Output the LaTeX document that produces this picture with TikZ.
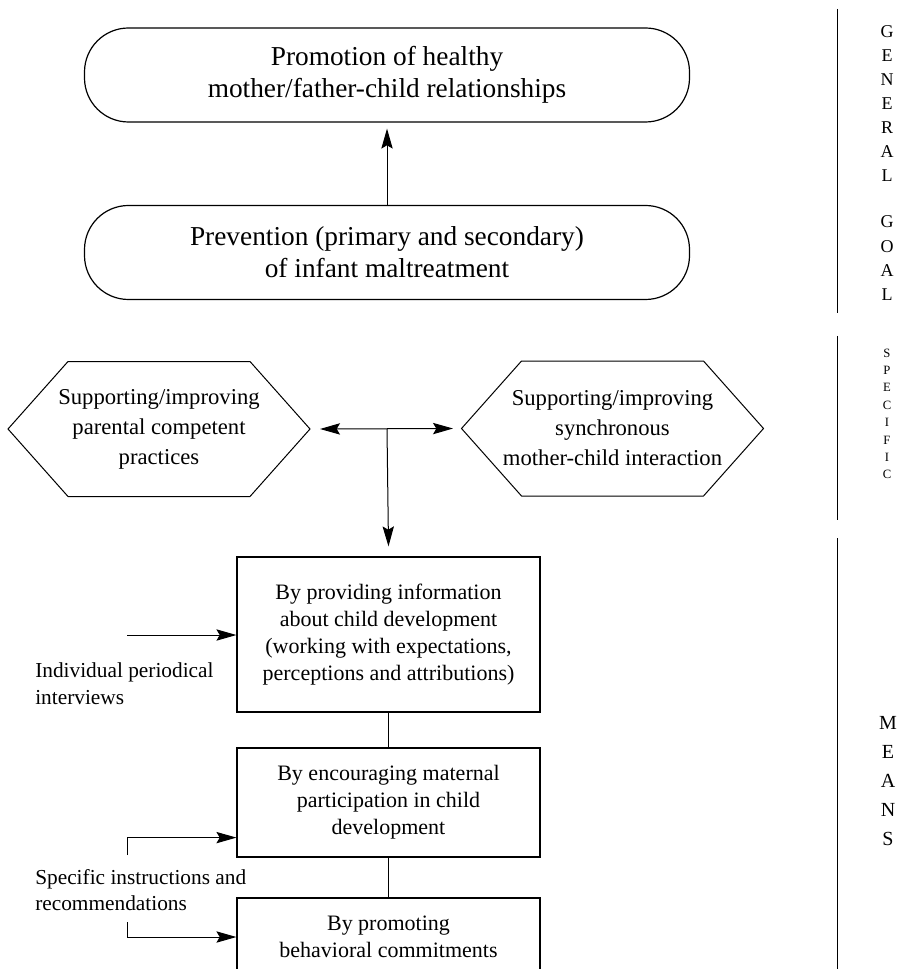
\documentclass[tikz,border=0pt]{standalone}
\usepackage{fontspec}
\setmainfont{Liberation Serif}
\usetikzlibrary{arrows.meta,calc}

\begin{document}
\begin{tikzpicture}[x=0.75pt,y=-0.75pt,
    >={Stealth[length=15pt,width=8.5pt,inset=2.5pt]},
    every node/.style={inner sep=0pt},
    goal/.style={draw, line width=0.9pt, rounded corners=33pt,
      minimum width=453.75pt, minimum height=70.5pt, align=center,
      font=\fontsize{20.5}{24}\selectfont},
    aim/.style={align=center, font=\fontsize{17}{22.5}\selectfont},
    meansbox/.style={draw, line width=0.9pt, minimum width=227.25pt,
      align=center, font=\fontsize{16.5}{20.25}\selectfont},
    side/.style={anchor=west, align=left, font=\fontsize{16}{20}\selectfont},
    tag/.style={font=\fontsize{13.5}{16}\selectfont},
    arr/.style={line width=0.75pt, ->}]
  \useasboundingbox (0,0) rectangle (906,969);
  \clip (0,0) rectangle (906,969);

  % general goal
  \node[goal] (promo) at (387,75) {Promotion of healthy\\mother/father-child relationships};
  \node[goal] (prevent) at (387,252.5) {Prevention (primary and secondary)\\of infant maltreatment};
  \draw[arr] (prevent.north) -- ($(promo.south)+(0,6)$);

  % specific goals
  \node[aim] (hexL) at (159,429) {Supporting/improving\\parental competent\\practices};
  \node[aim] (hexR) at (612.5,428.5) {Supporting/improving\\synchronous\\mother-child interaction};
  \foreach \h in {hexL,hexR}
    \draw[line width=0.75pt] (\h) ++(-91,-67.5) -- ++(182,0) -- ++(60,67.5)
      -- ++(-60,67.5) -- ++(-182,0) -- ++(-60,-67.5) -- cycle;
  \coordinate (tipL) at ($(hexL)+(161,0)$);
  \coordinate (tipR) at ($(hexR)+(-159.5,0)$);
  \coordinate (split) at (387,429);
  \draw[arr, <->] (tipL) -- (tipR);

  % means
  \node[meansbox, minimum height=116.25pt] (means1) at (388.5,634.5)
    {By providing information\\about child development\\(working with expectations,\\perceptions and attributions)};
  \node[meansbox, minimum height=81.75pt] (means2) at (388.5,802.5)
    {By encouraging maternal\\participation in child\\development};
  \node[meansbox, minimum height=58.5pt] (means3) at (388.5,937)
    {By promoting\\behavioral commitments};
  \draw[arr] (split) -- ($(means1.north)+(0,-10)$);
  \draw[line width=0.75pt] (means1) -- (means2);
  \draw[line width=0.75pt] (means2) -- (means3);

  \node[side] (interv) at (35,684) {Individual periodical\\interviews};
  \node[side] (instr) at (35,890) {Specific instructions and\\recommendations};
  \coordinate (in1) at (127,635);
  \coordinate (in2) at (127,855);
  \coordinate (in3) at (127,922);
  \draw[arr] (in1) -- (in1 -| means1.west);
  \draw[arr] (in2) |- ($(means2.south west)+(0,-20)$);
  \draw[arr] (in3) |- (means3.west);

  % level rules and labels
  \draw[line width=0.75pt] (837,9) -- (837,313);
  \draw[line width=0.75pt] (837,336) -- (837,520);
  \draw[line width=0.75pt] (837,538) -- (837,975);
  \foreach \ch [count=\i from 0] in {G,E,N,E,R,A,L}
    \node[tag] (gen\i) at (887,{32+23.9*\i}) {\ch};
  \foreach \ch [count=\i from 0] in {G,O,A,L}
    \node[tag] (goal\i) at (887,{222+24.3*\i}) {\ch};
  \foreach \ch [count=\i from 0] in {S,P,E,C,I,F,I,C}
    \node[tag, font=\fontsize{9.5}{11}\selectfont] (spec\i) at (887,{353+17.4*\i}) {\ch};
  \foreach \ch [count=\i from 0] in {M,E,A,N,S}
    \node[tag, font=\fontsize{15}{18}\selectfont] (mean\i) at (888,{723+29*\i}) {\ch};
\end{tikzpicture}
\end{document}
